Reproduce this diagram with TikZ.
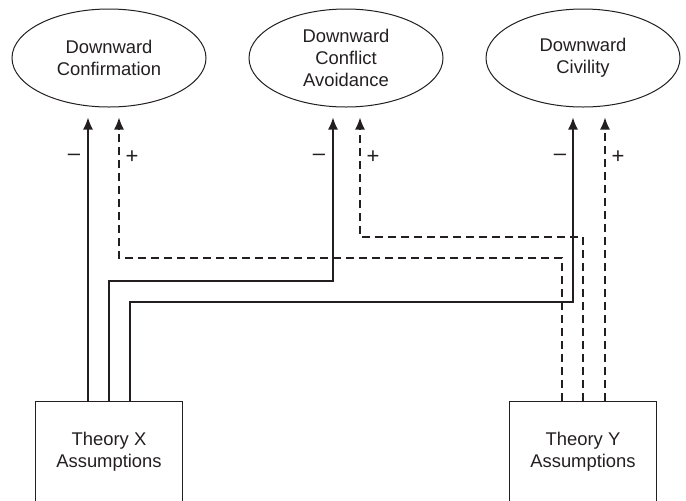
\documentclass[tikz,border=0pt]{standalone}
\usepackage{fontspec}
\setmainfont{Liberation Sans}
\usetikzlibrary{calc,arrows.meta,shapes.geometric}
\definecolor{ink}{HTML}{231F20}

\begin{document}
\begin{tikzpicture}[x=0.5pt, y=-0.5pt,
		font=\fontsize{9.2}{10.8}\selectfont, text=ink,
		goal/.style={draw=ink, line width=0.5pt, ellipse, inner sep=0pt,
			minimum width=97pt, minimum height=49pt, align=center},
		theory/.style={draw=ink, line width=0.5pt, rectangle, anchor=north,
			minimum width=73.5pt, minimum height=50.5pt, align=center},
		neglink/.style={draw=ink, line width=0.7pt, -{Latex[length=6pt,width=5pt]}},
		poslink/.style={neglink, dash pattern=on 4pt off 2.5pt},
		sign/.style={inner sep=0pt, font=\fontsize{11}{12}\selectfont}]
			%%%%% START %%%%%
			\useasboundingbox (0, 0) rectangle (686, 500);
			
			\node[goal] (conf) at (109, 58) {Downward\\Confirmation};
			\node[goal] (avoid) at (346, 58) {Downward\\Conflict\\Avoidance};
			\node[goal] (civil) at (583, 58) {Downward\\Civility};
			
			\node[theory] (thx) at (109, 401) {Theory X\\Assumptions};
			\node[theory] (thy) at (583, 401) {Theory Y\\Assumptions};
			
			% theory X, negative links
			\draw[neglink] ($(thx.north)+(-21, 0)$) -- ($(conf.south)+(-21, 10)$);
			\draw[neglink] (thx.north) -- ++(0, -120) -| ($(avoid.south)+(-13, 10)$);
			\draw[neglink] ($(thx.north)+(21, 0)$) -- ++(0, -99) -| ($(civil.south)+(-10, 10)$);
			
			% theory Y, positive links
			\draw[poslink] ($(thy.north)+(-21, 0)$) -- ++(0, -143) -| ($(conf.south)+(10, 10)$);
			\draw[poslink] (thy.north) -- ++(0, -164) -| ($(avoid.south)+(14, 10)$);
			\draw[poslink] ($(thy.north)+(22, 0)$) -- ($(civil.south)+(22, 10)$);
			
			\node[sign] (m1) at (74, 157) {–};
			\node[sign] (p1) at (132, 157) {+};
			\node[sign] (m2) at (319, 157) {–};
			\node[sign] (p2) at (373, 157) {+};
			\node[sign] (m3) at (560, 157) {–};
			\node[sign] (p3) at (618, 157) {+};
			
			%%%%% END %%%%%
\end{tikzpicture}
\end{document}
